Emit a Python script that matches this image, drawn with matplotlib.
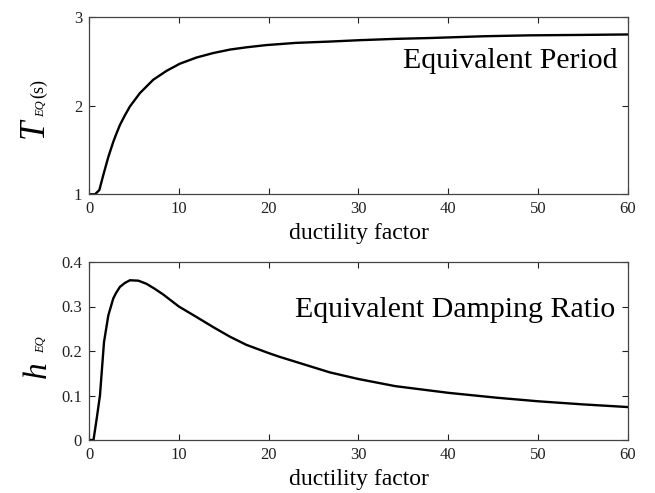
import matplotlib
matplotlib.use("Agg")
import matplotlib.pyplot as plt

plt.rcParams['font.family'] = ['Liberation Serif', 'DejaVu Serif']

# values
mu_T = [0, 0.67, 1.15, 1.6, 2.15, 2.7, 3.0, 3.44, 4.0, 4.56, 5.67, 7.15, 8.63, 10.1,
        11.96, 13.8, 15.7, 17.5, 19.7, 23.0, 26.8, 30.0, 34.0, 38.0, 44.0, 49.0,
        55.0, 60.0]
T_eq = [1.0, 1.0, 1.048, 1.22, 1.42, 1.59, 1.67, 1.78, 1.89, 1.99, 2.14, 2.29, 2.39,
        2.47, 2.54, 2.59, 2.63, 2.655, 2.68, 2.705, 2.72, 2.735, 2.75, 2.76, 2.78,
        2.79, 2.795, 2.80]

mu_h = [0, 0.5, 0.85, 1.22, 1.67, 2.15, 2.7, 3.0, 3.44, 4.0, 4.56, 5.5, 6.4, 7.3,
        8.26, 10.0, 12.0, 13.8, 15.7, 17.5, 19.9, 21.2, 26.8, 30.0, 34.1, 40.0,
        45.4, 50.0, 55.0, 60.0]
h_eq = [0, 0, 0.047, 0.10, 0.22, 0.28, 0.318, 0.33, 0.344, 0.353, 0.359, 0.358,
        0.351, 0.34, 0.327, 0.30, 0.276, 0.254, 0.232, 0.214, 0.196, 0.187, 0.152,
        0.137, 0.121, 0.106, 0.095, 0.087, 0.080, 0.074]

x_ticks = [0, 10, 20, 30, 40, 50, 60]
T_ticks = [1, 2, 3]
h_ticks = [0, 0.1, 0.2, 0.3, 0.4]
h_tick_labels = ['0', '0.1', '0.2', '0.3', '0.4']

W, H = 655, 493
fig = plt.figure(figsize=(W / 100, H / 100), dpi=100)

ax1 = fig.add_axes([89 / W, 1 - 194.3 / H, 539 / W, 177.6 / H])
ax2 = fig.add_axes([89 / W, 1 - 440 / H, 539 / W, 178 / H])

ax1.plot(mu_T, T_eq, color='black', lw=1.7, solid_joinstyle='round')
ax2.plot(mu_h, h_eq, color='black', lw=1.7, solid_joinstyle='round')

ax1.set_ylim(1, 3)
ax1.set_yticks(T_ticks)
ax1.set_yticklabels([str(t) for t in T_ticks])
ax2.set_ylim(0, 0.4)
ax2.set_yticks(h_ticks)
ax2.set_yticklabels(h_tick_labels)

for ax in (ax1, ax2):
    ax.set_xlim(0, 60)
    ax.set_xticks(x_ticks)
    ax.tick_params(direction='in', top=True, right=True, length=4.5, width=0.8,
                   labelsize=12, pad=5, colors='#222222')
    for sp in ax.spines.values():
        sp.set_color('#444444')
        sp.set_linewidth(0.9)
    ax.set_xlabel('ductility factor', fontsize=17, labelpad=4)

ax1.text(0.98, 0.711, 'Equivalent Period', transform=ax1.transAxes,
         fontsize=21.5, ha='right', va='baseline')
ax2.text(0.976, 0.69, 'Equivalent Damping Ratio', transform=ax2.transAxes,
         fontsize=21.5, ha='right', va='baseline')


def ylab(x_px, y_px, s, size, style='normal'):
    fig.text(x_px / W, 1 - y_px / H, s, fontsize=size, style=style, rotation=90,
             rotation_mode='anchor', ha='left', va='baseline')


ylab(43, 138, 'T', 25, 'italic')
ylab(44, 117, 'EQ', 9, 'italic')
ylab(43, 98, '(s)', 13)
ylab(46, 378, 'h', 24, 'italic')
ylab(44, 353, 'EQ', 9, 'italic')

fig.savefig('out.png', dpi=100)
